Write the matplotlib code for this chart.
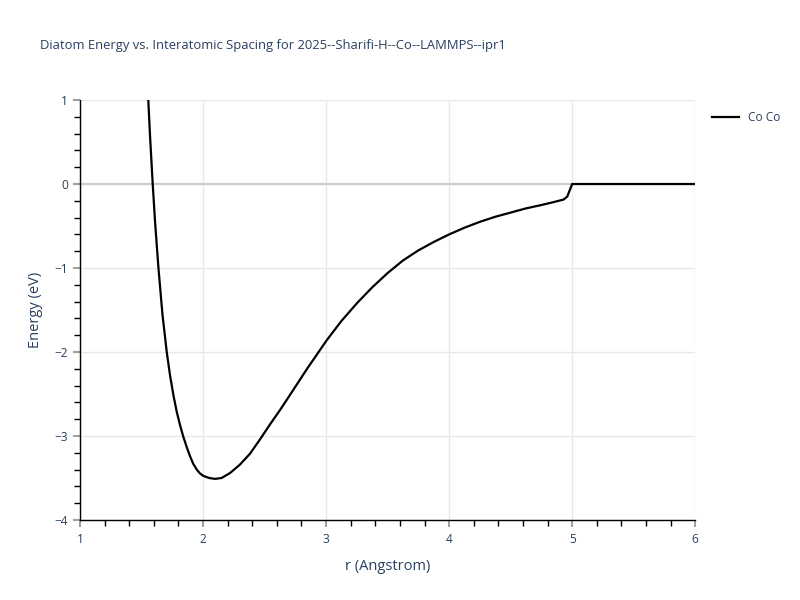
import numpy as np
import matplotlib.pyplot as plt
from matplotlib.ticker import MultipleLocator

# Datos (r en Angstrom, energia en eV)
r = [1.555, 1.57, 1.591, 1.61, 1.637, 1.67, 1.705, 1.732, 1.76, 1.786,
     1.813, 1.84, 1.867, 1.894, 1.92, 1.949, 1.975, 2.003, 2.05, 2.098,
     2.15, 2.22, 2.3, 2.382, 2.463, 2.545, 2.626, 2.707, 2.85, 3.005,
     3.125, 3.25, 3.375, 3.5, 3.625, 3.75, 3.875, 4.0, 4.125, 4.25,
     4.375, 4.5, 4.625, 4.75, 4.85, 4.93, 4.96, 5.0, 6.0]
energia = [1.0, 0.55, 0.0, -0.45, -0.99, -1.55, -2.0, -2.28, -2.52, -2.71,
           -2.87, -3.01, -3.13, -3.24, -3.33, -3.40, -3.445, -3.475, -3.50, -3.51,
           -3.50, -3.44, -3.34, -3.21, -3.04, -2.86, -2.69, -2.51, -2.19, -1.86,
           -1.63, -1.42, -1.23, -1.06, -0.91, -0.79, -0.69, -0.60, -0.52, -0.45,
           -0.39, -0.34, -0.29, -0.25, -0.215, -0.185, -0.15, 0.0, 0.0]
nombre_serie = "Co Co"
titulo = "Diatom Energy vs. Interatomic Spacing for 2025--Sharifi-H--Co--LAMMPS--ipr1"

plt.rcParams['font.family'] = ['Open Sans', 'DejaVu Sans']
texto = '#2a3f5f'

fig = plt.figure(figsize=(8, 6), dpi=100)
ax = fig.add_axes([0.1, 0.1333, 0.769, 0.70])

ax.plot(r, energia, color='black', linewidth=1.6, label=nombre_serie, zorder=3)
ax.axhline(0, color='#cccccc', linewidth=1.5, zorder=1)

ax.set_xlim(1, 6)
ax.set_ylim(-4, 1)
ax.xaxis.set_major_locator(MultipleLocator(1))
ax.yaxis.set_major_locator(MultipleLocator(1))
ax.xaxis.set_minor_locator(MultipleLocator(0.2))
ax.yaxis.set_minor_locator(MultipleLocator(0.2))
ax.grid(True, which='major', color='#e8e8e8', linewidth=1, zorder=0)
ax.set_axisbelow(True)

for lado in ['top', 'right']:
    ax.spines[lado].set_visible(False)
for lado in ['left', 'bottom']:
    ax.spines[lado].set_color('black')
    ax.spines[lado].set_linewidth(1)

ax.tick_params(which='major', length=5, color='#a0a0a0', labelsize=8.6,
               labelcolor=texto, width=1.5)
ax.tick_params(which='minor', length=4, color='black', width=1)
ax.tick_params(axis='x', pad=4)

ax.set_xlabel("r (Angstrom)", fontsize=10.5, color=texto, labelpad=10)
ax.set_ylabel("Energy (eV)", fontsize=10.5, color=texto, labelpad=8)
fig.text(0.05, 0.925, titulo, fontsize=9.4, color=texto, ha='left', va='center')

ax.legend(loc='upper left', bbox_to_anchor=(1.02, 0.985), frameon=False,
          fontsize=8.6, labelcolor=texto, handlelength=2.2, borderaxespad=0)

plt.savefig("out.png", dpi=100)
